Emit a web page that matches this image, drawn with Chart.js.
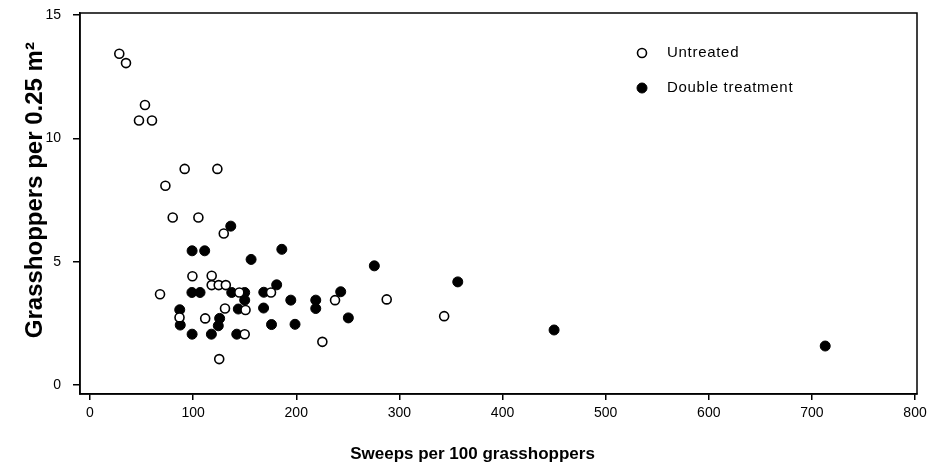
<!DOCTYPE html>
<html>
<head>
<meta charset="utf-8">
<script src="https://cdn.jsdelivr.net/npm/chart.js@4/dist/chart.umd.min.js"></script>
<style>
  html, body { margin: 0; padding: 0; background: #fff; }
  #wrap { width: 929px; height: 469px; position: relative; }
</style>
</head>
<body>
<div id="wrap"><canvas id="c" width="929" height="469"></canvas></div>
<script>
// ---- Data ----
const untreatedX = [28.4, 34.9, 53.3, 47.5, 60.1, 91.8, 123.5, 73.1, 80.2, 105.1, 129.7, 99.3, 118, 67.9, 118, 124.8, 131.7, 144.8, 175.5, 86.8, 111.7, 130.9, 150.8, 150, 125.3, 225.3, 237.6, 287.7, 343.4];
const untreatedY = [13.43, 13.05, 11.35, 10.72, 10.72, 8.76, 8.76, 8.08, 6.79, 6.79, 6.14, 4.41, 4.43, 3.68, 4.05, 4.05, 4.05, 3.75, 3.75, 2.74, 2.70, 3.10, 3.04, 2.06, 1.05, 1.75, 3.44, 3.47, 2.79];

const doubleX = [136.5, 99, 111.2, 156.2, 186, 98.8, 106.7, 137.4, 150, 150, 168.5, 181, 87, 87.5, 125.7, 124.4, 143.8, 168.3, 99, 117.7, 142.3, 176, 194.7, 218.9, 218.9, 243.1, 198.8, 250.5, 275.7, 356.6, 450, 712.9];
const doubleY = [6.44, 5.44, 5.44, 5.09, 5.5, 3.75, 3.75, 3.75, 3.75, 3.44, 3.76, 4.06, 3.05, 2.43, 2.70, 2.40, 3.08, 3.12, 2.06, 2.06, 2.06, 2.45, 3.44, 3.44, 3.10, 3.78, 2.46, 2.72, 4.83, 4.18, 2.23, 1.58];

const xTicks = [0, 100, 200, 300, 400, 500, 600, 700, 800];
const yTicks = [0, 5, 10, 15];

const seriesNames = ['Untreated', 'Double treatment'];
const xTitle = 'Sweeps per 100 grasshoppers';
const yTitle = 'Grasshoppers per 0.25 m\u00B2';

// ---- Build ----
const toPts = (xs, ys) => xs.map((x, i) => ({ x: x, y: ys[i] }));
const FONT = '"Liberation Sans", Arial, Helvetica, sans-serif';
const TICKFONT = '"Liberation Sans Narrow", "Liberation Sans", Arial, sans-serif';
const NB = '\u00A0';

const framePlugin = {
  id: 'frame',
  afterDraw(chart) {
    const { ctx, chartArea: a } = chart;
    ctx.save();
    ctx.strokeStyle = '#000';
    ctx.lineWidth = 1.5;
    ctx.strokeRect(a.left, a.top, a.right - a.left, a.bottom - a.top);
    ctx.restore();
  }
};

const legendPlugin = {
  id: 'insideLegend',
  afterDraw(chart) {
    const { ctx, chartArea: a } = chart;
    const mx = a.left + 562, tx = a.left + 587;
    const rows = [a.top + 40, a.top + 75];
    ctx.save();
    chart.data.datasets.forEach((ds, i) => {
      const y = rows[i];
      ctx.beginPath();
      ctx.arc(mx, y, ds.pointRadius, 0, Math.PI * 2);
      ctx.fillStyle = ds.pointBackgroundColor;
      ctx.fill();
      ctx.lineWidth = ds.pointBorderWidth;
      ctx.strokeStyle = ds.pointBorderColor;
      ctx.stroke();
      ctx.fillStyle = '#000';
      ctx.font = '15px ' + FONT;
      if ('letterSpacing' in ctx) ctx.letterSpacing = '0.7px';
      ctx.textBaseline = 'middle';
      ctx.textAlign = 'left';
      ctx.fillText(ds.label, tx, y);
    });
    ctx.restore();
  }
};

new Chart(document.getElementById('c'), {
  type: 'scatter',
  data: {
    datasets: [
      {
        label: seriesNames[0],
        data: toPts(untreatedX, untreatedY),
        pointRadius: 4.5,
        pointHoverRadius: 4.5,
        pointBackgroundColor: '#ffffff',
        pointBorderColor: '#000000',
        pointBorderWidth: 1.6
      },
      {
        label: seriesNames[1],
        data: toPts(doubleX, doubleY),
        pointRadius: 5,
        pointHoverRadius: 5,
        pointBackgroundColor: '#000000',
        pointBorderColor: '#000000',
        pointBorderWidth: 1
      }
    ]
  },
  options: {
    responsive: false,
    animation: false,
    devicePixelRatio: 1,
    layout: { padding: { top: 13, right: 12, left: 0, bottom: 0 } },
    plugins: {
      legend: { display: false },
      tooltip: { enabled: false }
    },
    scales: {
      x: {
        type: 'linear',
        min: -9.7,
        max: 801.9,
        afterBuildTicks: s => { s.ticks = xTicks.map(v => ({ value: v })); },
        afterFit: s => { s.height = 75; s.paddingLeft = 0; s.paddingRight = 0; },
        grid: { display: true, drawOnChartArea: false, drawTicks: true, tickLength: 6, color: '#000', lineWidth: 1.5 },
        border: { display: true, color: '#000', width: 1.5 },
        ticks: { color: '#000', font: { family: TICKFONT, size: 14 }, padding: 5, maxRotation: 0, autoSkip: false },
        title: { display: true, text: xTitle + NB.repeat(11), color: '#000', font: { family: FONT, size: 17, weight: 'bold' }, padding: { top: 0, bottom: 4 } }
      },
      y: {
        type: 'linear',
        min: -0.365,
        max: 15.08,
        afterBuildTicks: s => { s.ticks = yTicks.map(v => ({ value: v })); },
        afterFit: s => { s.width = 80; s.paddingTop = 0; s.paddingBottom = 0; },
        grid: { display: true, drawOnChartArea: false, drawTicks: true, tickLength: 7, color: '#000', lineWidth: 1.5 },
        border: { display: true, color: '#000', width: 1.5 },
        ticks: { color: '#000', font: { family: TICKFONT, size: 14 }, padding: 12, autoSkip: false },
        title: { display: true, text: NB.repeat(4) + yTitle, color: '#000', font: { family: FONT, size: 24, weight: 'bold' }, padding: { top: 21, bottom: 0 } }
      }
    }
  },
  plugins: [framePlugin, legendPlugin]
});
</script>
</body>
</html>
